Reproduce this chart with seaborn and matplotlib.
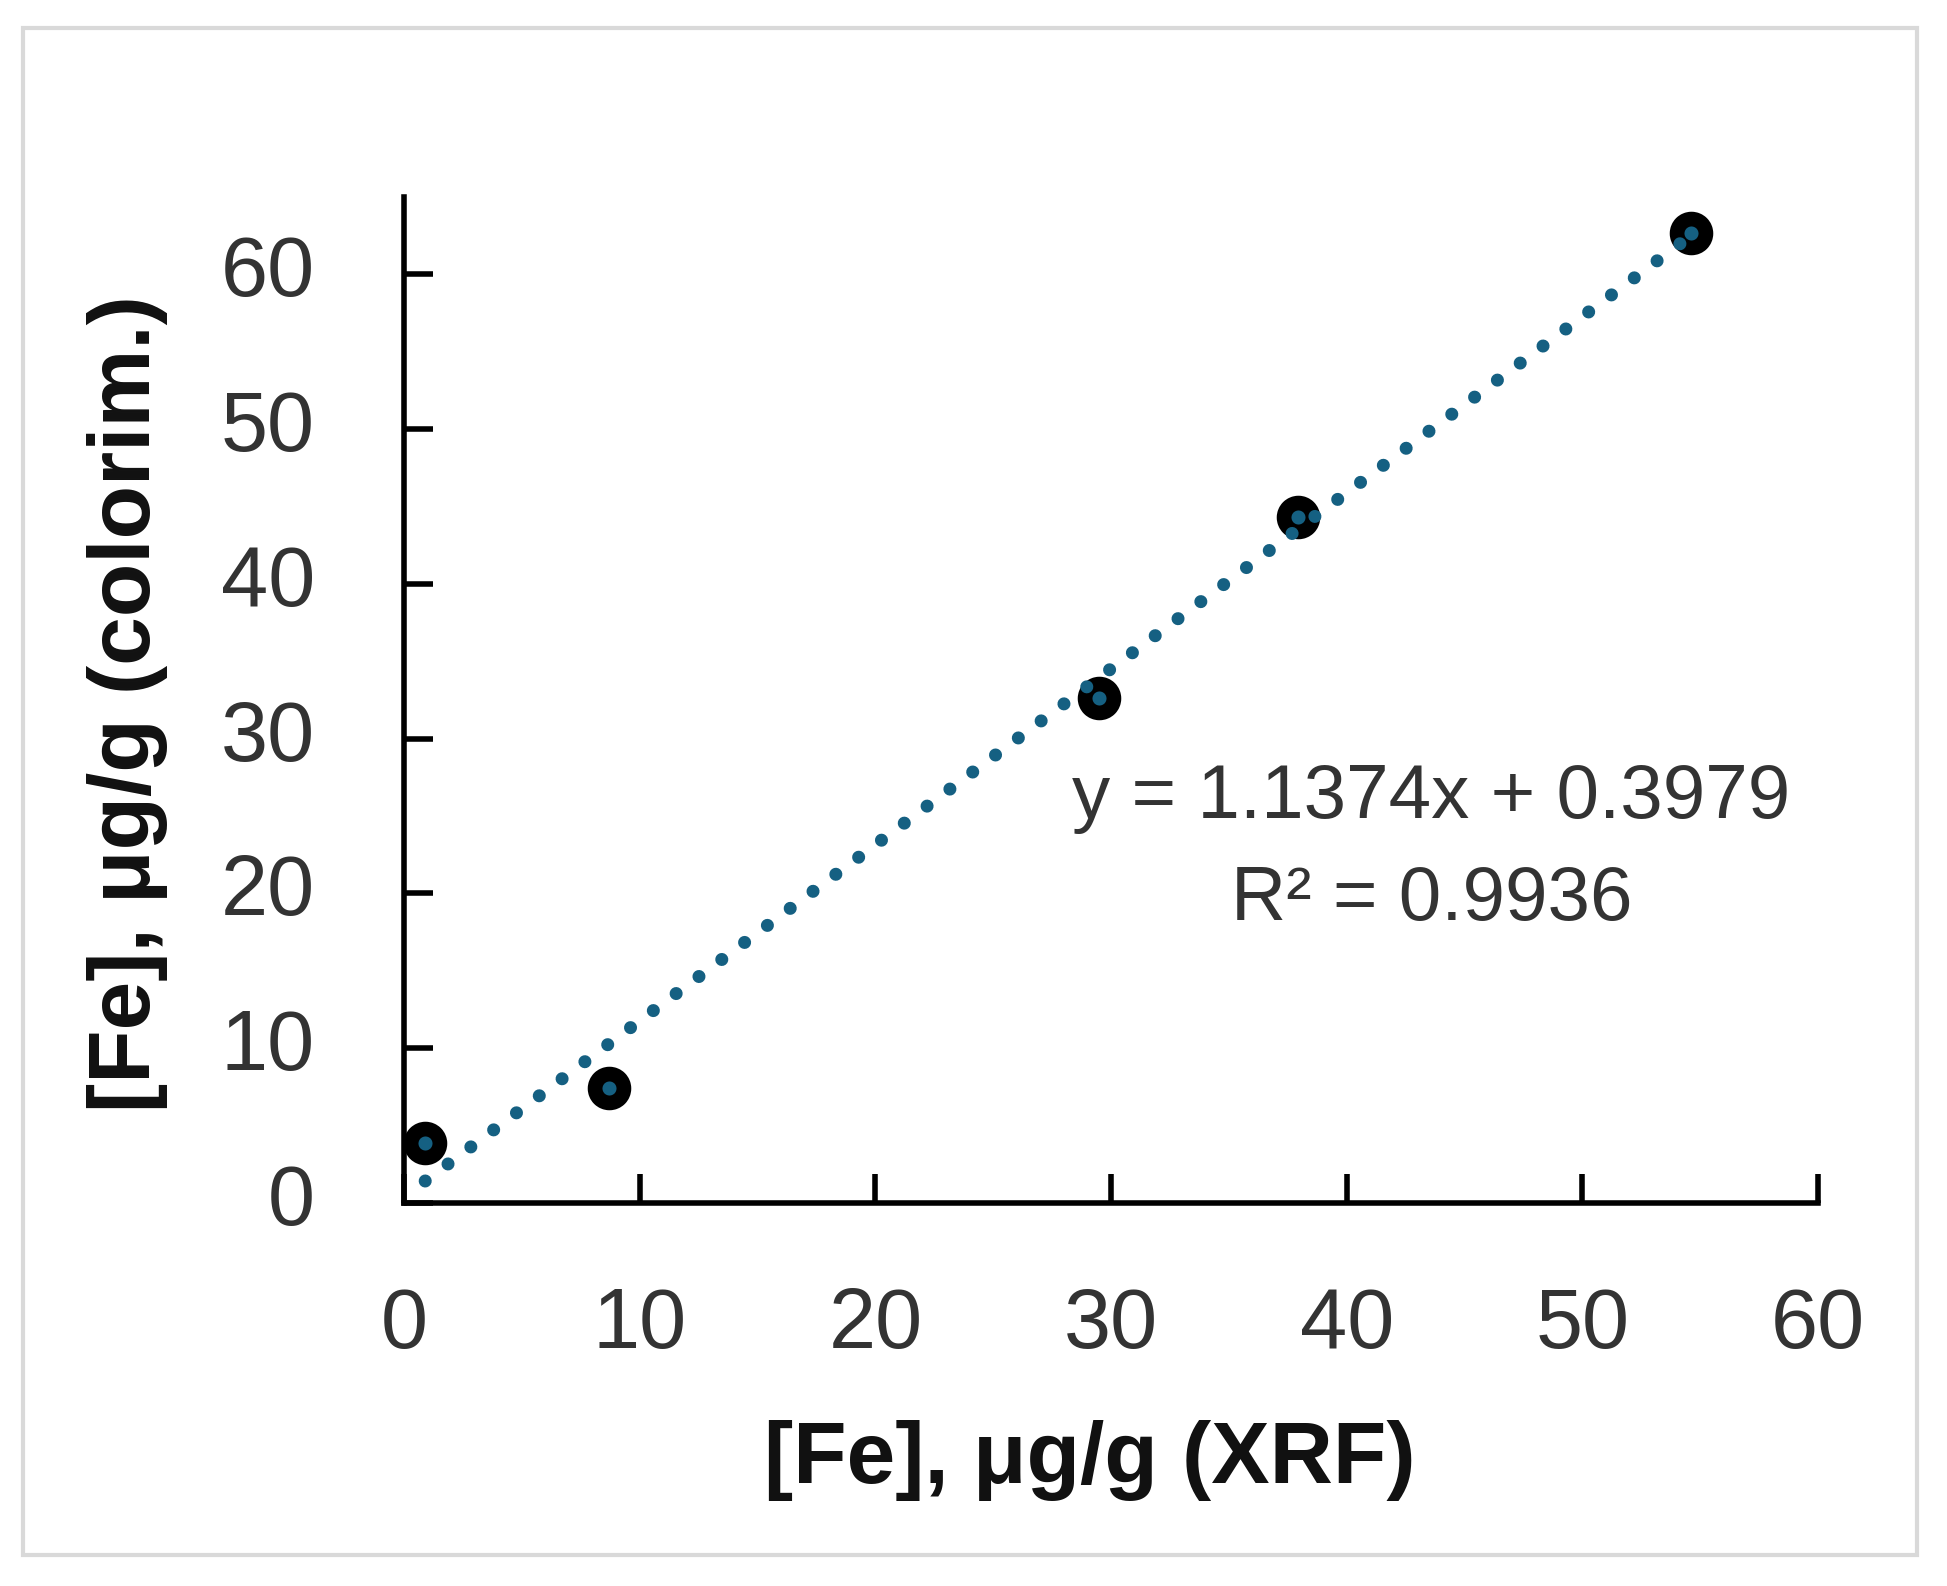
import matplotlib
matplotlib.use("Agg")
import matplotlib.pyplot as plt
from matplotlib.patches import Rectangle
import seaborn as sns
import numpy as np
import pandas as pd

# ---- data ----
fe_xrf = [0.9, 8.7, 29.5, 37.95, 54.6]
fe_colorim = [3.85, 7.45, 32.6, 44.3, 62.7]
fit_slope = 1.1374
fit_intercept = 0.3979
fit_r2 = 0.9936
x_ticks = [0, 10, 20, 30, 40, 50, 60]
y_ticks = [0, 10, 20, 30, 40, 50, 60]
x_label = "[Fe], μg/g (XRF)"
y_label = "[Fe], μg/g (colorim.)"

df = pd.DataFrame({"xrf": fe_xrf, "colorim": fe_colorim})

sns.set_theme(style="white")
plt.rcParams["font.family"] = ["Liberation Sans", "DejaVu Sans"]

W, H, DPI = 1947, 1586, 100
fig = plt.figure(figsize=(W / DPI, H / DPI), dpi=DPI)
fig.patch.set_facecolor("white")

ax_l, ax_r, ax_t, ax_b = 404, 1818, 197, 1203
ax = fig.add_axes([ax_l / W, 1 - ax_b / H, (ax_r - ax_l) / W, (ax_b - ax_t) / H])

blue = "#156082"

sns.scatterplot(data=df, x="xrf", y="colorim", ax=ax, s=430, color=blue,
                edgecolor="black", linewidth=10.6, zorder=3, legend=False)

xfit = np.array([min(fe_xrf), max(fe_xrf)])
yfit = fit_slope * xfit + fit_intercept
sns.lineplot(x=xfit, y=yfit, ax=ax, color=blue, linewidth=9.4,
             linestyle=(0, (0.001, 2.18)), zorder=4, legend=False)
for ln in ax.lines:
    ln.set_dash_capstyle("round")

ax.set_xlim(0, 60)
ax.set_ylim(0, 65)
ax.set_xticks(x_ticks)
ax.set_yticks(y_ticks)
ax.set_xticklabels([str(t) for t in x_ticks])
ax.set_yticklabels([str(t) for t in y_ticks], va="center")

for s in ["top", "right"]:
    ax.spines[s].set_visible(False)
for s in ["left", "bottom"]:
    ax.spines[s].set_linewidth(4)
    ax.spines[s].set_color("black")
    ax.spines[s].set_capstyle("projecting")

ax.tick_params(axis="both", which="major", bottom=True, left=True,
               direction="in", length=21, width=4, color="black",
               labelsize=61, labelcolor="#333333")
ax.tick_params(axis="x", pad=60)
ax.tick_params(axis="y", pad=64)

label_font = dict(family=["Liberation Sans", "DejaVu Sans"],
                  weight="bold", size=63, color="#111111")
ax.set_xlabel(x_label, fontdict=label_font)
ax.set_ylabel(y_label, fontdict=label_font)
ax.xaxis.set_label_coords((1090 - ax_l) / (ax_r - ax_l), -0.216)
ax.yaxis.set_label_coords(-0.167, 0.496)

ax.text(43.6, 24.9, f"y = {fit_slope}x + {fit_intercept}", ha="center", va="baseline",
        fontsize=55, color="#333333")
ax.text(43.6, 18.26, f"R² = {fit_r2}", ha="center", va="baseline",
        fontsize=55, color="#333333")

fig.patches.append(Rectangle((23 / W, 1 - 1555 / H), (1917 - 23) / W, (1555 - 28) / H,
                             transform=fig.transFigure, fill=False,
                             edgecolor="#D9D9D9", linewidth=3, zorder=0))

fig.savefig("out.png", dpi=DPI)
